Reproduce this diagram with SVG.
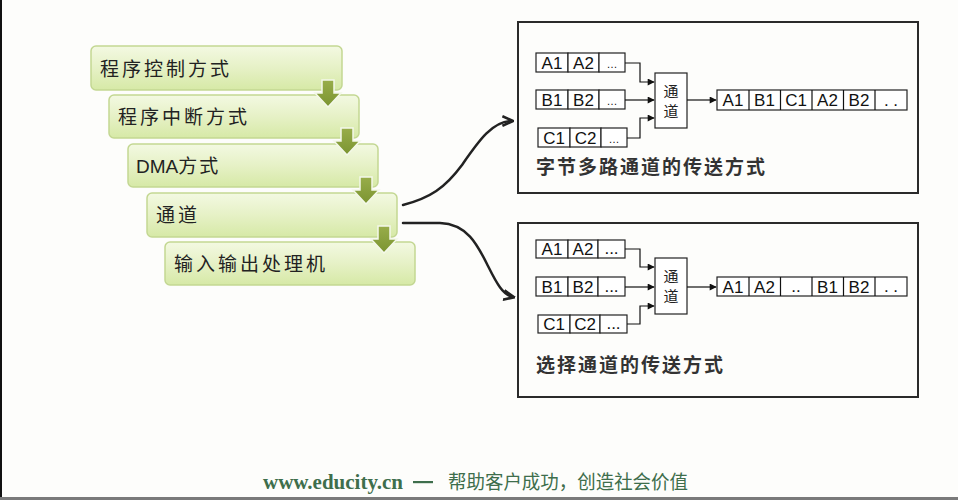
<svg xmlns="http://www.w3.org/2000/svg" width="958" height="500" viewBox="0 0 958 500">
<defs>
<linearGradient id="gbox" x1="0" y1="0" x2="0" y2="1">
<stop offset="0" stop-color="#f3f9e2"/>
<stop offset="0.5" stop-color="#e6f1c6"/>
<stop offset="1" stop-color="#d6e9a6"/>
</linearGradient>
<linearGradient id="garr" x1="0" y1="0" x2="0" y2="1">
<stop offset="0" stop-color="#98ad4a"/>
<stop offset="1" stop-color="#7b9431"/>
</linearGradient>
<marker id="ah" viewBox="0 0 10 10" refX="9" refY="5" markerWidth="9" markerHeight="7" markerUnits="userSpaceOnUse" orient="auto">
<path d="M0,0 L10,5 L0,10 Z" fill="#111"/>
</marker>
<marker id="ah2" viewBox="0 0 10 10" refX="8" refY="5" markerWidth="12" markerHeight="12" markerUnits="userSpaceOnUse" orient="auto">
<path d="M0,1 L9,5 L0,9" fill="none" stroke="#222" stroke-width="2.2"/>
</marker>
<path id="down" d="M-6,0 L6,0 L6,13 L13,13 L0,27 L-13,13 L-6,13 Z"/>
</defs>
<style>
.gb{fill:url(#gbox);stroke:#c3d792;stroke-width:1.5}
.gt{font-family:"Noto Sans CJK SC","Noto Sans",sans-serif;font-size:19px;fill:#222;letter-spacing:3px}
.da{fill:url(#garr);stroke:#f4f8ea;stroke-width:1.5}
.frame{fill:#fdfdfb;stroke:#2a2a2a;stroke-width:2}
.cell{fill:#fff;stroke:#222;stroke-width:1.2}
.ct{font-family:"Liberation Sans",Arial,sans-serif;font-size:17px;fill:#111;text-anchor:middle}
.ch{fill:#fff;stroke:#222;stroke-width:1.2}
.cht{font-family:"Noto Sans CJK SC",sans-serif;font-size:15px;fill:#222;text-anchor:middle}
.ln{fill:none;stroke:#111;stroke-width:1.2}
.cap{font-family:"Noto Sans CJK SC",sans-serif;font-size:19px;font-weight:bold;fill:#333;letter-spacing:2px}
.cv{fill:none;stroke:#222;stroke-width:2.5;stroke-linecap:round}
.ft{fill:#3e6e4c}
</style>
<rect x="0" y="0" width="958" height="500" fill="#fdfdfb"/>
<rect x="0" y="0" width="2" height="500" fill="#111"/>
<rect x="0" y="497" width="958" height="3" fill="#7a7a7a"/>

<g id="n1"><rect class="gb" x="91" y="46" width="251" height="44" rx="5"/><text class="gt" x="100" y="76">程序控制方式</text></g>
<g id="n2"><rect class="gb" x="109" y="95" width="250" height="43" rx="5"/><text class="gt" x="118" y="124">程序中断方式</text></g>
<g id="n3"><rect class="gb" x="128" y="144" width="250" height="43" rx="5"/><text class="gt" x="136" y="173" style="letter-spacing:2px"><tspan font-family="Liberation Sans,sans-serif" style="letter-spacing:0">DMA</tspan>方式</text></g>
<g id="n4"><rect class="gb" x="147" y="193" width="250" height="44" rx="5"/><text class="gt" x="156" y="222">通道</text></g>
<g id="n5"><rect class="gb" x="165" y="242" width="250" height="43" rx="5"/><text class="gt" x="174" y="271">输入输出处理机</text></g>

<g id="box1">
<rect class="frame" x="518" y="22" width="400" height="171"/>
<g id="b1-a">
<rect class="cell" x="536" y="53" width="32" height="19"/><rect class="cell" x="568" y="53" width="31" height="19"/><rect class="cell" x="599" y="53" width="26" height="19"/>
<text class="ct" x="552" y="69">A1</text><text class="ct" x="583.5" y="69">A2</text><text class="ct" x="612" y="68" style="font-size:11px">…</text>
</g>
<g id="b1-b">
<rect class="cell" x="536" y="90" width="32" height="19"/><rect class="cell" x="568" y="90" width="31" height="19"/><rect class="cell" x="599" y="90" width="26" height="19"/>
<text class="ct" x="552" y="106">B1</text><text class="ct" x="583.5" y="106">B2</text><text class="ct" x="612" y="105" style="font-size:11px">…</text>
</g>
<g id="b1-c">
<rect class="cell" x="538" y="128" width="32" height="19"/><rect class="cell" x="570" y="128" width="31" height="19"/><rect class="cell" x="601" y="128" width="26" height="19"/>
<text class="ct" x="554" y="144">C1</text><text class="ct" x="585.5" y="144">C2</text><text class="ct" x="614" y="143" style="font-size:11px">…</text>
</g>
<g id="b1-ch"><rect class="ch" x="655" y="73" width="32" height="55"/><text class="cht" x="671" y="97">通</text><text class="cht" x="671" y="117">道</text></g>
<g id="b1-out">
<rect class="cell" x="717" y="90" width="190" height="20"/>
<path class="ln" d="M749,90 V110 M780.5,90 V110 M812,90 V110 M843.5,90 V110 M875,90 V110"/>
<text class="ct" x="733" y="106">A1</text><text class="ct" x="764.5" y="106">B1</text><text class="ct" x="796" y="106">C1</text><text class="ct" x="827.5" y="106">A2</text><text class="ct" x="859" y="106">B2</text><text class="ct" x="891" y="106">. .</text>
</g>
<text class="cap" x="536" y="174">字节多路通道的传送方式</text>
</g>

<g id="box2">
<rect class="frame" x="518" y="223" width="400" height="174"/>
<g id="b2-a">
<rect class="cell" x="536" y="240" width="32" height="18"/><rect class="cell" x="568" y="240" width="30" height="18"/><rect class="cell" x="598" y="240" width="27" height="18"/>
<text class="ct" x="552" y="255">A1</text><text class="ct" x="583" y="255">A2</text><text class="ct" x="611.5" y="254">...</text>
</g>
<g id="b2-b">
<rect class="cell" x="536" y="277" width="32" height="19"/><rect class="cell" x="568" y="277" width="30" height="19"/><rect class="cell" x="598" y="277" width="27" height="19"/>
<text class="ct" x="552" y="293">B1</text><text class="ct" x="583" y="293">B2</text><text class="ct" x="611.5" y="292">...</text>
</g>
<g id="b2-c">
<rect class="cell" x="538" y="315" width="32" height="18"/><rect class="cell" x="570" y="315" width="30" height="18"/><rect class="cell" x="600" y="315" width="27" height="18"/>
<text class="ct" x="554" y="330">C1</text><text class="ct" x="585" y="330">C2</text><text class="ct" x="613.5" y="329">...</text>
</g>
<g id="b2-ch"><rect class="ch" x="655" y="258" width="32" height="56"/><text class="cht" x="671" y="282">通</text><text class="cht" x="671" y="302">道</text></g>
<g id="b2-out">
<rect class="cell" x="717" y="277" width="190" height="19"/>
<path class="ln" d="M749,277 V296 M780.5,277 V296 M812,277 V296 M843.5,277 V296 M875,277 V296"/>
<text class="ct" x="733" y="293">A1</text><text class="ct" x="764.5" y="293">A2</text><text class="ct" x="796" y="292">..</text><text class="ct" x="827.5" y="293">B1</text><text class="ct" x="859" y="293">B2</text><text class="ct" x="891" y="292">. .</text>
</g>
<text class="cap" x="536" y="372">选择通道的传送方式</text>
</g>

<g id="connectors">
<use href="#down" class="da" x="328" y="80"/>
<use href="#down" class="da" x="347" y="128"/>
<use href="#down" class="da" x="366" y="177"/>
<use href="#down" class="da" x="384" y="226"/>
<path class="cv" d="M403,205 C430,198 445,188 462,165 C478,142 492,121 512,121" marker-end="url(#ah2)"/>
<path class="cv" d="M403,223 L440,223 C468,224 478,246 488,266 C497,284 503,295 513,297" marker-end="url(#ah2)"/>
<path class="ln" d="M625,63 H640 V82 H654" marker-end="url(#ah)"/>
<path class="ln" d="M625,100 H654" marker-end="url(#ah)"/>
<path class="ln" d="M627,138 H640 V118 H654" marker-end="url(#ah)"/>
<path class="ln" d="M687,100 H716" marker-end="url(#ah)"/>
<path class="ln" d="M625,249 H640 V267 H654" marker-end="url(#ah)"/>
<path class="ln" d="M625,287 H654" marker-end="url(#ah)"/>
<path class="ln" d="M627,324 H640 V306 H654" marker-end="url(#ah)"/>
<path class="ln" d="M687,287 H716" marker-end="url(#ah)"/>
</g>

<text class="ft" x="263" y="489" font-family="Liberation Serif,serif" font-weight="bold" font-size="20" textLength="140" lengthAdjust="spacingAndGlyphs">www.educity.cn</text>
<rect class="ft" x="413" y="481" width="20" height="2.2"/>
<text class="ft" x="448" y="489" font-family="Noto Sans CJK SC,sans-serif" font-size="19" textLength="240" lengthAdjust="spacingAndGlyphs">帮助客户成功，创造社会价值</text>
</svg>
